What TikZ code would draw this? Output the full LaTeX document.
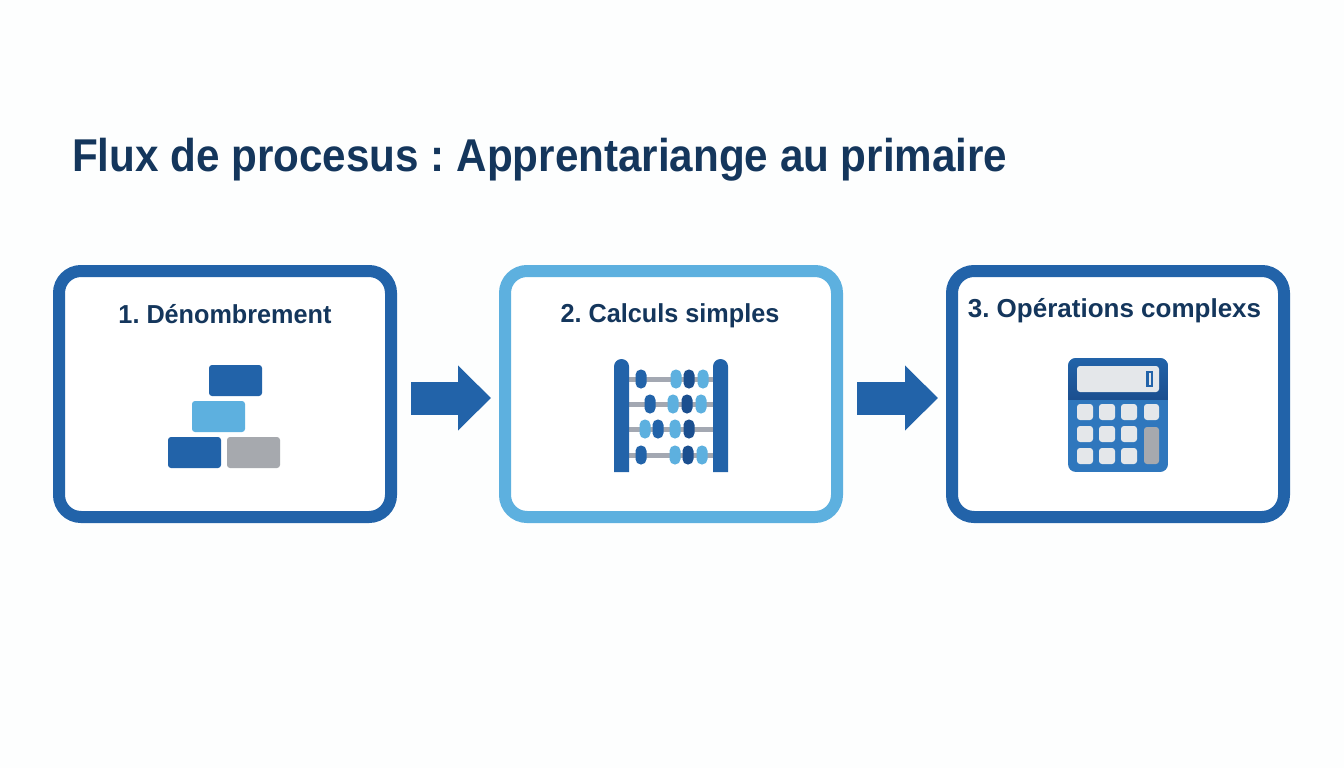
\documentclass[tikz,border=0pt]{standalone}
\usepackage{fontspec}
\setmainfont{Liberation Sans}
\newfontfamily\titlefont{Liberation Sans Bold}[FakeStretch=0.917]
\newfontfamily\cardfont{Liberation Sans Bold}[FakeStretch=0.97]
\newfontfamily\cardwide{Liberation Sans Bold}
\usetikzlibrary{arrows.meta}
\definecolor{navy}{HTML}{14365C}
\definecolor{mid}{HTML}{2263A9}
\definecolor{deep}{HTML}{1B4F8F}
\definecolor{sky}{HTML}{5DB0DF}
\definecolor{grayk}{HTML}{A6A9AE}
\definecolor{rodc}{HTML}{A3A8B2}
\definecolor{keyc}{HTML}{E4E7EA}
\definecolor{calc}{HTML}{2F77BD}
\definecolor{paper}{HTML}{FDFEFE}
\tikzset{
  card/.style={draw=#1,fill=white,line width=12pt,rounded corners=22pt,minimum width=332pt,minimum height=246pt,outer sep=0pt,inner sep=0pt},
  cardtext/.style={text=navy,font=\frenchspacing\cardfont\fontsize{26}{30}\selectfont,inner sep=0pt,anchor=base},
  cardtextwide/.style={text=navy,font=\frenchspacing\cardwide\fontsize{26}{30}\selectfont,inner sep=0pt,anchor=base},
  titletext/.style={text=navy,font=\frenchspacing\titlefont\fontsize{46}{54}\selectfont,inner sep=0pt,anchor=base west},
  flow/.style={draw=mid,line width=33pt,-{Triangle[length=33pt,width=63pt]},shorten <=20pt,shorten >=14pt},
  brick/.style={fill=#1,rounded corners=3pt},
  bead/.style={fill=#1,rounded corners=5.3pt},
  rod/.style={draw=rodc,line width=5pt},
  key/.style={fill=keyc,rounded corners=3pt},
}
\newcommand{\beadat}[3]{\fill[bead=#3] (#1-5.5,#2-9.5) rectangle (#1+5.5,#2+9.5);}
\begin{document}
\begin{tikzpicture}[x=1pt,y=-1pt]
\useasboundingbox[fill=paper] (0,0) rectangle (1344,768);
\node[titletext] (title) at (72,171) {Flux de procesus : Apprentariange au primaire};
\node[card=mid] (b1) at (225,394) {};
\node[card=sky] (b2) at (671,394) {};
\node[card=mid] (b3) at (1118,394) {};
\node[cardtext] (t1) at (225,323) {1. Dénombrement};
\node[cardtext] (t2) at (670,322.5) {2. Calculs simples};
\node[cardtextwide] (t3) at (1114.5,317) {3. Opérations complexs};
\draw[flow] ([yshift=-4pt]b1.east) -- ([yshift=-4pt]b2.west);
\draw[flow] ([yshift=-4pt]b2.east) -- ([yshift=-4pt]b3.west);
% bricks
\fill[brick=mid] (209,365) rectangle (262,396);
\fill[brick=sky] (192,401) rectangle (245,432);
\fill[brick=mid] (168,437) rectangle (221,468);
\fill[brick=grayk] (227,437) rectangle (280,468);
% abacus
\foreach \y in {379,404,429,455} \draw[rod] (625,\y) -- (717,\y);
\foreach \x in {614,713} \fill[mid] (\x,472) -- (\x,366.5) arc[start angle=180,end angle=0,radius=7.5pt] -- (\x+15,472) -- cycle;
\foreach \x/\y/\c in {641/379/mid,676/379/sky,689/379/deep,703/379/sky,
  650/404/mid,673/404/sky,687/404/deep,701/404/sky,
  645/429/sky,658/429/mid,675/429/sky,689/429/deep,
  641/455/mid,675/455/sky,688/455/deep,702/455/sky}{\beadat{\x}{\y}{\c}}
% calculator
\begin{scope}
\clip[rounded corners=8pt] (1068,358) rectangle (1168,472);
\fill[calc] (1068,358) rectangle (1168,472);
\shade[top color=mid,bottom color=deep] (1068,358) rectangle (1168,399);
\end{scope}
\fill[keyc,rounded corners=3pt] (1077,366) rectangle (1159,392);
\draw[mid,line width=2.5pt] (1147.3,372) rectangle (1152,386);
\foreach \x in {1077,1099,1121}\foreach \y in {404,426,448}{\fill[key] (\x,\y) rectangle (\x+16,\y+16);}
\fill[key] (1144,404) rectangle (1159,420);
\fill[grayk,rounded corners=3pt] (1144,427) rectangle (1159,464);
\end{tikzpicture}
\end{document}
